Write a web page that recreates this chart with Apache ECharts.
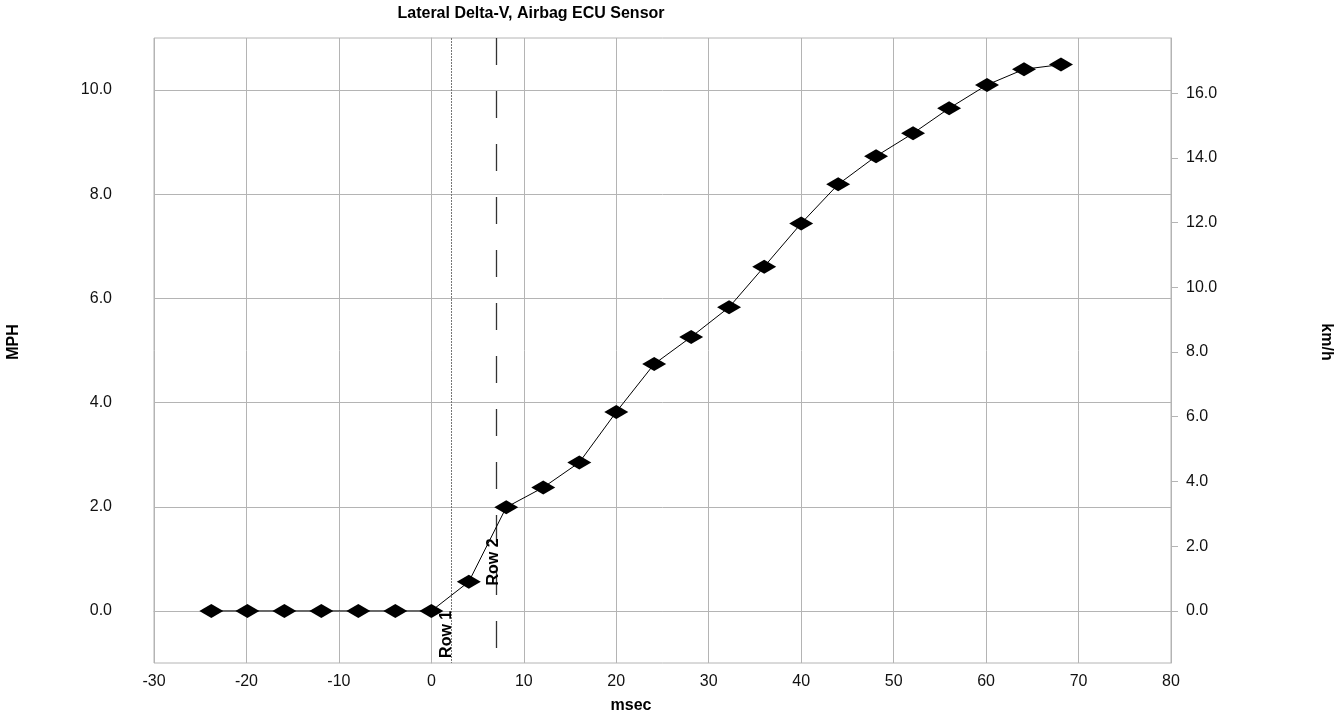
<!DOCTYPE html>
<html>
<head>
<meta charset="utf-8">
<script src="https://cdn.jsdelivr.net/npm/echarts@6/dist/echarts.min.js"></script>
<style>
html,body{margin:0;padding:0;background:#fff;}
#chart{width:1343px;height:717px;}
</style>
</head>
<body>
<div id="chart"></div>
<script>
// ---- data ----
const timeMsec = [-23.8, -19.9, -15.9, -11.9, -7.9, -3.9, 0, 4.05, 8.1, 12.1, 16.0, 20.0, 24.1, 28.1, 32.2, 36.0, 40.0, 44.0, 48.1, 52.1, 56.0, 60.1, 64.1, 68.1];
const deltaVmph = [0, 0, 0, 0, 0, 0, 0, 0.56, 1.99, 2.37, 2.85, 3.82, 4.74, 5.26, 5.83, 6.61, 7.44, 8.19, 8.73, 9.17, 9.65, 10.1, 10.40, 10.49];
const mphTicks = [0, 2, 4, 6, 8, 10];
const kmhTicks = [0, 2, 4, 6, 8, 10, 12, 14, 16];
const rowMarkers = [2.1, 7.05];
const rowNames = ['Row 1', 'Row 2'];
const titleText = 'Lateral Delta-V, Airbag ECU Sensor';
const xName = 'msec', yLeftName = 'MPH', yRightName = 'km/h';

const MPH_MIN = -1, MPH_MAX = 11, KMH_PER_MPH = 1.609344;
const FONT = '"Liberation Sans", Arial, sans-serif';
const gridColor = '#b4b4b4';

const chart = echarts.init(document.getElementById('chart'), null, {renderer: 'canvas'});
const seriesData = timeMsec.map((t, i) => [t, deltaVmph[i]]);

const option = {
  animation: false,
  backgroundColor: '#fff',
  textStyle: {fontFamily: FONT},
  grid: {left: 154, top: 38, right: 172, bottom: 54, show: true, borderColor: gridColor, borderWidth: 1, containLabel: false},
  xAxis: {
    type: 'value', min: -30, max: 80, interval: 10,
    axisLine: {show: true, lineStyle: {color: gridColor}},
    axisTick: {show: false},
    splitLine: {show: true, lineStyle: {color: gridColor, width: 1}},
    axisLabel: {color: '#111', fontSize: 16, fontFamily: FONT, margin: 11}
  },
  yAxis: [{
    type: 'value', min: MPH_MIN, max: MPH_MAX, position: 'left',
    axisLine: {show: true, lineStyle: {color: gridColor}},
    axisTick: {show: true, customValues: mphTicks, length: 6, inside: false, lineStyle: {color: gridColor}},
    splitLine: {show: true, lineStyle: {color: gridColor, width: 1}},
    axisLabel: {customValues: mphTicks, color: '#111', fontSize: 16, fontFamily: FONT, margin: 42, formatter: v => v.toFixed(1)}
  }, {
    type: 'value', min: MPH_MIN * KMH_PER_MPH, max: MPH_MAX * KMH_PER_MPH, position: 'right',
    axisLine: {show: true, lineStyle: {color: gridColor}},
    axisTick: {show: true, customValues: kmhTicks, length: 7, inside: false, lineStyle: {color: gridColor}},
    splitLine: {show: false},
    axisLabel: {customValues: kmhTicks, color: '#111', fontSize: 16, fontFamily: FONT, margin: 15, formatter: v => v.toFixed(1)}
  }],
  series: [{
    type: 'line',
    xAxisIndex: 0, yAxisIndex: 0,
    data: seriesData,
    symbol: 'diamond',
    symbolSize: [24, 14],
    itemStyle: {color: '#000'},
    lineStyle: {color: '#000', width: 1},
    z: 5,
    markLine: {
      silent: true,
      symbol: 'none',
      label: {show: false},
      animation: false,
      data: [
        [{coord: [rowMarkers[0], MPH_MAX], lineStyle: {color: '#777', type: [2, 1], width: 1}},
         {coord: [rowMarkers[0], MPH_MIN]}],
        [{coord: [rowMarkers[1], MPH_MAX], lineStyle: {color: '#333', type: [27, 26], width: 1.3}},
         {coord: [rowMarkers[1], MPH_MIN]}]
      ]
    }
  }]
};
chart.setOption(option);

// annotation texts positioned through the axes
const p1 = chart.convertToPixel({xAxisIndex: 0, yAxisIndex: 0}, [rowMarkers[0], -0.45]);
const p2 = chart.convertToPixel({xAxisIndex: 0, yAxisIndex: 0}, [rowMarkers[1], 0.94]);
chart.setOption({
  graphic: [
    {type: 'text', x: 531, y: 14, style: {text: titleText, font: 'bold 16px ' + FONT, fill: '#000', align: 'center', verticalAlign: 'middle'}},
    {type: 'text', x: 631, y: 706, style: {text: xName, font: 'bold 16px ' + FONT, fill: '#000', align: 'center', verticalAlign: 'middle'}},
    {type: 'text', x: 14, y: 342, rotation: Math.PI / 2, style: {text: yLeftName, font: 'bold 16px ' + FONT, fill: '#000', align: 'center', verticalAlign: 'middle'}},
    {type: 'text', x: 1326, y: 342, rotation: -Math.PI / 2, style: {text: yRightName, font: 'bold 16px ' + FONT, fill: '#000', align: 'center', verticalAlign: 'middle'}},
    {type: 'text', x: p1[0] - 4, y: p1[1], rotation: Math.PI / 2, z: 10, style: {text: rowNames[0], font: 'bold 16px ' + FONT, fill: '#000', align: 'center', verticalAlign: 'middle'}},
    {type: 'text', x: p2[0] - 3, y: p2[1], rotation: Math.PI / 2, z: 10, style: {text: rowNames[1], font: 'bold 16px ' + FONT, fill: '#000', align: 'center', verticalAlign: 'middle'}}
  ]
});
</script>
</body>
</html>
